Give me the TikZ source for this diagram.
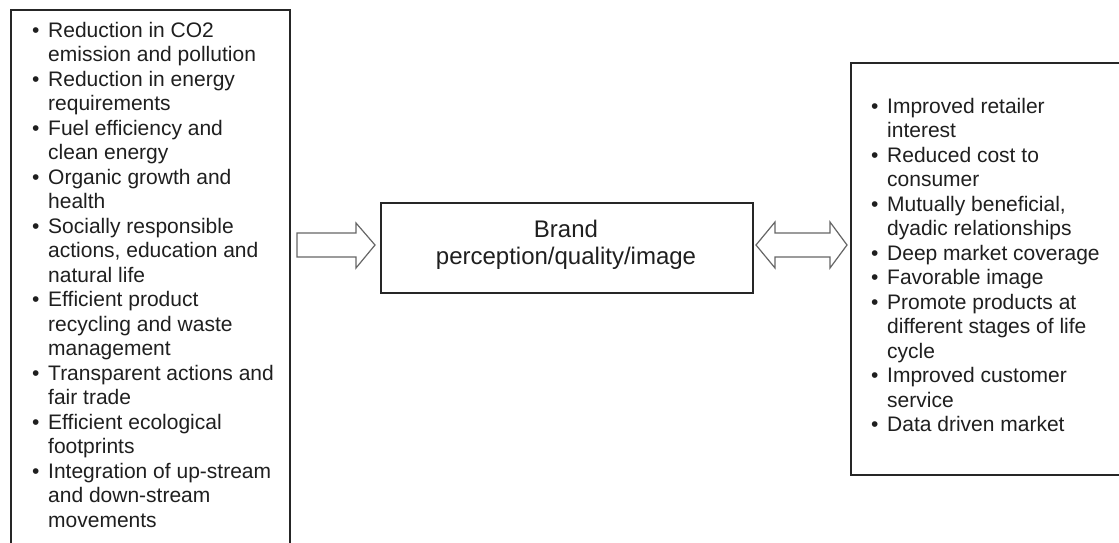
\documentclass[tikz,border=0pt]{standalone}
\usepackage{fontspec}
\setmainfont{Liberation Sans}
\tikzset{
  box/.style={draw=black!85, line width=1.6pt, inner sep=0pt, fill=none},
  txt/.style={anchor=base west, inner sep=0pt, font=\fontsize{21}{24}\selectfont, text=black!88},
  dot/.style={anchor=base west, inner sep=0pt, font=\fontsize{21}{24}\selectfont, text=black!88},
  mid/.style={anchor=base, inner sep=0pt, font=\fontsize{24}{27}\selectfont, text=black!88},
  arr/.style={draw=black!60, line width=1.2pt, line join=miter, fill=white},
}
\begin{document}
\begin{tikzpicture}[x=1pt,y=-1pt]
\useasboundingbox (0,0) rectangle (1119,542);
\clip (0,0) rectangle (1119,542);
\fill[white] (0,0) rectangle (1119,542);
% boxes
\node[box, anchor=north west, minimum width=279pt, minimum height=560pt] (L) at (10,9) {};
\node[box, anchor=north west, minimum width=372pt, minimum height=90pt] (M) at (380,202) {};
\node[box, anchor=north west, minimum width=290pt, minimum height=412pt] (R) at (850,62) {};
% left list
\foreach [count=\i from 0] \b/\t in {
  1/Reduction in CO2, 0/emission and pollution,
  1/Reduction in energy, 0/requirements,
  1/Fuel efficiency and, 0/clean energy,
  1/Organic growth and, 0/health,
  1/Socially responsible, 0/{actions, education and}, 0/natural life,
  1/Efficient product, 0/recycling and waste, 0/management,
  1/Transparent actions and, 0/fair trade,
  1/Efficient ecological, 0/footprints,
  1/Integration of up-stream, 0/and down-stream, 0/movements}{
  \node[txt] (l\i) at (48,{37+24.5*\i}) {\t};
  \ifnum\b=1 \node[dot] (lb\i) at (32,{37+24.5*\i}) {\textbullet}; \fi
}
% right list
\foreach [count=\i from 0] \b/\t in {
  1/Improved retailer, 0/interest,
  1/Reduced cost to, 0/consumer,
  1/{Mutually beneficial,}, 0/dyadic relationships,
  1/Deep market coverage,
  1/Favorable image,
  1/Promote products at, 0/different stages of life, 0/cycle,
  1/Improved customer, 0/service,
  1/Data driven market}{
  \node[txt] (r\i) at (887,{113+24.5*\i}) {\t};
  \ifnum\b=1 \node[dot] (rb\i) at (871,{113+24.5*\i}) {\textbullet}; \fi
}
% middle text
\node[mid] (m1) at (566,237) {Brand};
\node[mid] (m2) at (566,264) {perception/quality/image};
% left block arrow
\draw[arr] (297,233) -- (356,233) -- (356,223) -- (375,245) -- (356,268)
  -- (356,257) -- (297,257) -- cycle;
% double block arrow
\draw[arr] (756,245) -- (775,222) -- (775,233) -- (830,233) -- (830,222)
  -- (847,245) -- (830,268) -- (830,257) -- (775,257) -- (775,268) -- cycle;
\end{tikzpicture}
\end{document}
